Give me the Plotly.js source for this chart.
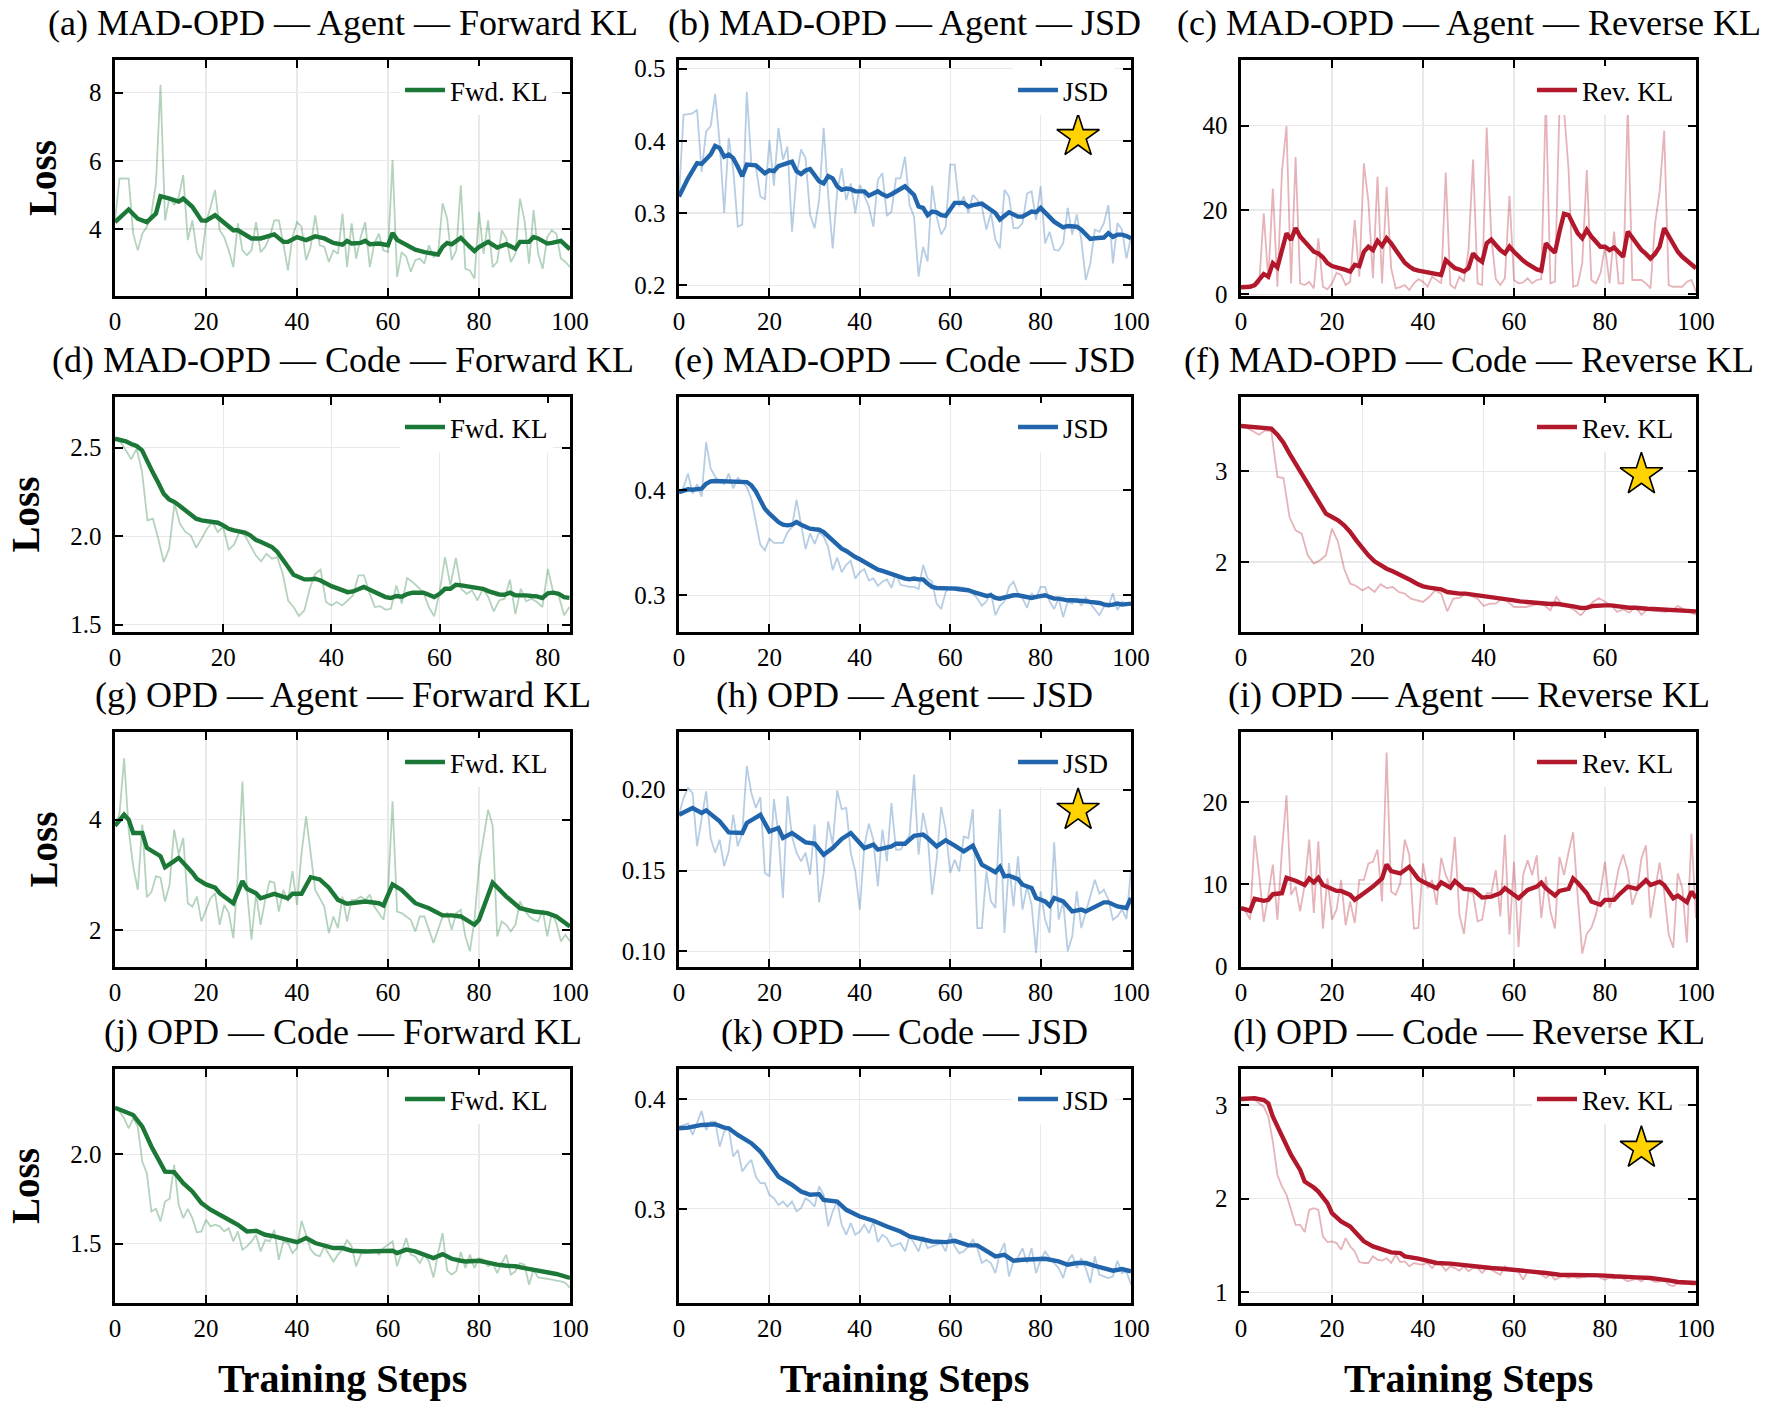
<!DOCTYPE html>
<html>
<head>
<meta charset="utf-8">
<script src="https://cdn.plot.ly/plotly-3.0.1.min.js"></script>
<style>
  html, body { margin: 0; padding: 0; background: #ffffff; }
  #chart { width: 1778px; height: 1405px; }
</style>
</head>
<body>
<div id="chart"></div>
<script>
// ---------- Loss curves: raw per-step values and smoothed trend ----------

// (a) MAD-OPD — Agent — Forward KL
const madAgentFwdRaw = [
  4.25,5.48,5.48,5.48,3.86,3.37,3.86,4.06,4.45,5.33,
  8.23,4.25,4.94,4.70,4.94,5.58,3.67,4.25,3.32,3.08,
  4.16,4.65,5.14,3.96,3.76,3.37,2.88,4.16,3.37,3.23,
  3.37,4.20,3.32,3.47,3.76,4.25,4.25,3.57,2.78,3.76,
  4.20,4.06,3.08,3.47,4.40,3.52,3.47,3.03,3.37,3.27,
  4.45,2.88,4.16,3.13,3.76,4.20,2.88,3.57,3.86,3.37,
  3.32,6.02,2.59,3.32,3.18,2.74,3.08,3.13,2.98,3.52,
  3.18,3.27,4.75,4.30,3.08,3.37,5.28,2.83,2.78,2.54,
  4.50,3.27,4.25,2.88,3.03,3.96,3.72,3.03,3.27,4.89,
  4.25,2.98,4.55,3.27,2.83,3.76,3.96,3.86,3.13,3.03,
  2.88];
const madAgentFwdSmoothSteps = [0,3,5,7,9,10,12,14,15,17,19,20,22,24,26,27,29,30,32,34,35,37,38,40,42,44,46,48,50,51,52,54,55,56,58,60,61,62,64,66,68,70,71,72,73,74,76,78,79,80,82,84,86,88,89,91,92,93,95,96,98,100];
const madAgentFwdSmooth = [4.20,4.57,4.30,4.20,4.45,4.96,4.89,4.80,4.89,4.65,4.25,4.24,4.40,4.20,3.96,3.96,3.78,3.72,3.72,3.78,3.84,3.62,3.62,3.76,3.67,3.78,3.72,3.59,3.54,3.65,3.57,3.59,3.65,3.55,3.57,3.52,3.88,3.68,3.55,3.39,3.32,3.29,3.25,3.47,3.59,3.55,3.74,3.47,3.35,3.47,3.62,3.45,3.55,3.42,3.62,3.62,3.76,3.72,3.57,3.59,3.65,3.40];

// (b) MAD-OPD — Agent — JSD
const madAgentJsdRaw = [
  0.323,0.436,0.437,0.438,0.443,0.357,0.413,0.420,0.465,0.397,
  0.300,0.404,0.360,0.281,0.284,0.468,0.369,0.364,0.323,0.319,
  0.401,0.338,0.418,0.374,0.392,0.274,0.351,0.388,0.376,0.298,
  0.279,0.318,0.418,0.325,0.251,0.330,0.362,0.318,0.341,0.300,
  0.339,0.325,0.309,0.281,0.346,0.355,0.296,0.302,0.348,0.348,
  0.378,0.311,0.295,0.212,0.253,0.233,0.338,0.295,0.270,0.281,
  0.367,0.367,0.309,0.323,0.300,0.325,0.318,0.309,0.277,0.300,
  0.263,0.251,0.332,0.323,0.279,0.279,0.286,0.327,0.330,0.290,
  0.337,0.258,0.274,0.249,0.248,0.258,0.307,0.270,0.298,0.263,
  0.207,0.230,0.277,0.274,0.286,0.311,0.230,0.286,0.277,0.237,
  0.267];
const madAgentJsdSmoothSteps = [0,2,4,5,7,8,9,10,11,12,13,14,15,17,19,20,21,22,24,25,26,27,28,29,31,32,33,34,35,36,37,38,39,41,42,44,45,46,47,48,50,52,53,54,55,56,57,58,59,61,62,63,64,65,67,69,70,71,72,73,75,76,78,79,80,81,83,84,85,86,87,88,89,90,91,92,93,94,95,96,97,98,99,100];
const madAgentJsdSmooth = [0.323,0.348,0.369,0.368,0.381,0.393,0.390,0.378,0.381,0.376,0.364,0.351,0.367,0.366,0.355,0.359,0.358,0.365,0.369,0.371,0.358,0.354,0.359,0.361,0.344,0.341,0.351,0.348,0.337,0.332,0.334,0.333,0.330,0.330,0.324,0.330,0.326,0.323,0.326,0.330,0.337,0.325,0.309,0.307,0.297,0.302,0.301,0.297,0.296,0.314,0.314,0.314,0.309,0.311,0.313,0.304,0.300,0.291,0.297,0.301,0.295,0.295,0.302,0.301,0.307,0.300,0.288,0.284,0.280,0.282,0.281,0.281,0.277,0.270,0.264,0.265,0.266,0.266,0.272,0.267,0.270,0.270,0.268,0.265];

// (c) MAD-OPD — Agent — Reverse KL
const madAgentRevRaw = [
  1.66,1.40,1.66,1.80,2.60,19.2,3.40,25.1,1.80,29.1,
  39.9,2.60,32.6,2.60,2.20,3.00,1.40,13.3,1.80,1.20,
  2.60,5.10,4.60,2.20,3.00,17.6,4.20,31.1,22.0,3.80,
  27.9,2.60,25.5,6.20,1.40,1.70,2.20,1.00,2.60,3.60,
  3.00,1.80,4.20,3.40,2.60,28.9,2.20,1.40,4.20,3.00,
  10.5,32.0,2.60,2.20,39.6,13.7,3.60,2.20,3.80,23.4,
  3.40,2.60,2.80,3.80,2.60,3.40,3.60,47.0,2.60,3.00,
  44.5,43.7,29.5,1.80,2.20,7.40,29.5,3.40,2.60,5.00,
  11.3,2.60,14.9,2.60,2.60,44.9,3.40,3.40,3.40,2.60,
  1.40,16.8,24.3,38.8,2.20,1.80,1.80,1.80,3.00,3.40,
  0.60];
const madAgentRevSmooth = [
  1.66,1.70,1.80,2.20,3.40,4.80,4.20,7.40,6.40,10.5,
  14.5,12.9,15.7,13.7,12.5,11.3,10.1,9.70,8.80,7.40,
  6.70,6.40,6.20,5.80,5.40,7.00,6.70,10.1,11.3,10.5,
  12.7,11.5,13.3,12.1,10.5,8.80,7.50,6.60,5.90,5.60,
  5.40,5.20,5.10,5.00,4.60,8.10,7.00,6.20,5.90,5.40,
  6.20,9.70,8.50,7.70,12.1,13.0,11.7,10.5,9.70,11.3,
  10.1,8.90,8.00,7.20,6.60,5.90,5.60,12.1,10.9,9.90,
  14.9,19.1,18.8,16.4,14.5,13.3,15.3,13.7,12.3,11.3,
  11.3,10.5,11.1,10.1,8.90,14.9,13.3,11.7,10.5,9.60,
  8.50,9.60,11.3,15.7,13.7,11.7,10.1,8.90,8.00,7.20,
  6.20];

// (d) MAD-OPD — Code — Forward KL
const madCodeFwdRaw = [
  2.541,2.532,2.485,2.434,2.494,2.363,2.089,2.099,1.986,1.854,
  1.929,2.184,2.071,2.024,2.005,1.935,1.986,2.042,2.080,2.024,
  2.052,1.924,1.952,2.024,2.005,1.948,1.892,1.858,1.901,1.873,
  1.882,1.788,1.637,1.600,1.549,1.581,1.703,1.788,1.811,1.628,
  1.609,1.628,1.609,1.637,1.666,1.779,1.779,1.684,1.600,1.605,
  1.585,1.590,1.722,1.620,1.764,1.741,1.713,1.684,1.600,1.547,
  1.684,1.882,1.722,1.877,1.703,1.675,1.694,1.637,1.703,1.656,
  1.575,1.637,1.647,1.754,1.560,1.703,1.632,1.647,1.628,1.600,
  1.816,1.684,1.666,1.553,1.600];
const madCodeFwdSmooth = [
  2.551,2.545,2.536,2.521,2.509,2.485,2.419,2.359,2.302,2.240,
  2.208,2.193,2.170,2.144,2.118,2.099,2.089,2.086,2.080,2.076,
  2.061,2.042,2.033,2.029,2.020,2.005,1.980,1.967,1.954,1.939,
  1.911,1.873,1.826,1.782,1.766,1.756,1.756,1.760,1.750,1.732,
  1.718,1.707,1.694,1.684,1.688,1.703,1.713,1.699,1.684,1.669,
  1.656,1.651,1.662,1.658,1.673,1.681,1.684,1.681,1.669,1.656,
  1.675,1.703,1.703,1.726,1.722,1.717,1.711,1.703,1.703,1.690,
  1.681,1.671,1.669,1.681,1.666,1.669,1.666,1.662,1.660,1.651,
  1.677,1.681,1.675,1.656,1.652];

// (e) MAD-OPD — Code — JSD
const madCodeJsdRaw = [
  0.397,0.403,0.416,0.397,0.406,0.394,0.446,0.421,0.413,0.408,
  0.406,0.416,0.402,0.412,0.408,0.403,0.392,0.370,0.348,0.343,
  0.354,0.350,0.350,0.350,0.360,0.365,0.391,0.367,0.344,0.359,
  0.349,0.360,0.356,0.346,0.324,0.336,0.322,0.329,0.333,0.316,
  0.322,0.325,0.314,0.316,0.309,0.313,0.315,0.307,0.321,0.310,
  0.309,0.308,0.308,0.306,0.329,0.316,0.313,0.292,0.287,0.303,
  0.308,0.308,0.308,0.307,0.305,0.302,0.297,0.290,0.294,0.303,
  0.281,0.290,0.294,0.308,0.313,0.302,0.297,0.288,0.302,0.297,
  0.308,0.308,0.294,0.287,0.297,0.279,0.294,0.292,0.297,0.290,
  0.298,0.292,0.287,0.281,0.289,0.290,0.302,0.286,0.294,0.292,
  0.290];
const madCodeJsdSmooth = [
  0.3984,0.4000,0.4010,0.4006,0.4010,0.4016,0.4063,0.4086,0.4089,0.4089,
  0.4086,0.4083,0.4086,0.4089,0.4086,0.4079,0.4048,0.3990,0.3905,0.3825,
  0.3778,0.3737,0.3698,0.3673,0.3667,0.3673,0.3698,0.3673,0.3651,0.3635,
  0.3629,0.3625,0.3603,0.3565,0.3524,0.3483,0.3444,0.3422,0.3390,0.3365,
  0.3343,0.3317,0.3292,0.3270,0.3244,0.3232,0.3216,0.3200,0.3190,0.3175,
  0.3159,0.3152,0.3159,0.3152,0.3152,0.3111,0.3079,0.3070,0.3070,0.3070,
  0.3063,0.3063,0.3057,0.3057,0.3048,0.3032,0.3016,0.3000,0.2994,0.3000,
  0.2975,0.2968,0.2978,0.2994,0.3000,0.3000,0.2994,0.2984,0.2975,0.2984,
  0.2994,0.3000,0.2984,0.2968,0.2968,0.2959,0.2952,0.2952,0.2952,0.2952,
  0.2943,0.2937,0.2937,0.2927,0.2914,0.2905,0.2911,0.2921,0.2911,0.2914,
  0.2921];

// (f) MAD-OPD — Code — Reverse KL
const madCodeRevRaw = [
  3.515,3.478,3.434,3.404,3.452,3.441,2.938,2.926,2.496,2.349,
  2.313,2.074,1.982,2.018,2.074,2.368,2.221,1.926,1.761,1.735,
  1.687,1.724,1.669,1.754,1.713,1.724,1.669,1.651,1.596,1.577,
  1.559,1.614,1.687,1.651,1.456,1.596,1.603,1.651,1.625,1.596,
  1.515,1.540,1.540,1.596,1.559,1.504,1.504,1.504,1.522,1.540,
  1.522,1.467,1.614,1.522,1.504,1.467,1.412,1.485,1.559,1.603,
  1.559,1.522,1.449,1.478,1.441,1.504,1.419,1.478,1.463,1.456,
  1.449,1.467,1.515,1.478,1.449,1.419];
const madCodeRevSmooth = [
  3.500,3.493,3.485,3.478,3.474,3.471,3.404,3.316,3.195,3.085,
  2.974,2.853,2.735,2.625,2.533,2.496,2.460,2.404,2.331,2.239,
  2.147,2.074,2.007,1.963,1.926,1.897,1.868,1.835,1.798,1.761,
  1.732,1.717,1.713,1.699,1.669,1.654,1.651,1.651,1.643,1.632,
  1.621,1.610,1.603,1.596,1.588,1.577,1.566,1.559,1.551,1.548,
  1.540,1.537,1.540,1.533,1.522,1.507,1.493,1.496,1.515,1.522,
  1.522,1.522,1.511,1.504,1.496,1.496,1.485,1.485,1.482,1.478,
  1.474,1.474,1.478,1.474,1.467,1.456];

// (g) OPD — Agent — Forward KL
const opdAgentFwdRaw = [
  3.88,4.12,5.11,3.82,3.16,2.73,3.91,2.60,2.69,2.98,
  2.95,2.52,2.83,3.82,3.37,3.67,2.49,2.43,2.61,2.16,
  2.37,2.58,2.67,2.10,2.46,2.31,1.86,2.98,4.69,2.73,
  1.83,2.67,2.10,2.55,2.89,2.86,2.34,2.73,2.52,3.07,
  2.46,3.40,4.06,3.43,2.73,2.58,2.43,1.95,2.25,2.04,
  2.61,2.16,2.55,2.55,2.61,2.55,2.64,2.43,2.31,2.19,
  2.70,4.33,2.34,2.31,2.25,2.19,1.98,2.25,2.25,2.01,
  1.77,2.01,2.25,2.31,2.01,2.31,2.37,1.89,1.62,2.19,
  3.16,3.67,4.18,3.89,1.89,2.16,2.10,1.98,2.10,2.52,
  2.37,2.25,2.19,2.16,2.37,1.89,2.31,2.13,1.80,1.92,
  1.80];
const opdAgentFwdSmoothSteps = [0,2,3,4,6,7,10,11,13,14,17,18,20,22,23,24,26,28,29,31,32,35,37,38,39,41,43,45,47,49,51,55,58,59,61,63,66,69,72,74,76,79,80,83,86,89,92,95,97,100];
const opdAgentFwdSmooth = [3.89,4.09,4.00,3.76,3.76,3.49,3.34,3.14,3.25,3.31,3.04,2.93,2.83,2.77,2.67,2.61,2.49,2.89,2.75,2.67,2.58,2.66,2.61,2.58,2.66,2.66,2.96,2.92,2.77,2.55,2.48,2.52,2.49,2.45,2.83,2.73,2.49,2.40,2.27,2.27,2.25,2.10,2.19,2.86,2.61,2.40,2.34,2.31,2.25,2.07];

// (h) OPD — Agent — JSD
const opdAgentJsdRaw = [
  0.1845,0.1948,0.2010,0.1980,0.1650,0.1825,0.1990,0.1700,0.1610,0.1690,
  0.1526,0.1619,0.1845,0.1650,0.1730,0.2148,0.1980,0.1887,0.1955,0.1485,
  0.1464,0.1942,0.1720,0.1330,0.1960,0.1710,0.1610,0.1557,0.1610,0.1474,
  0.1784,0.1303,0.1485,0.1804,0.1660,0.1996,0.1880,0.1887,0.1610,0.1495,
  0.1258,0.1650,0.1790,0.1690,0.1402,0.1753,0.1557,0.1918,0.1629,0.1629,
  0.1670,0.1720,0.2093,0.1598,0.1856,0.1720,0.1350,0.1567,0.1893,0.1753,
  0.1485,0.1567,0.1495,0.1711,0.1700,0.1880,0.1144,0.1144,0.1495,0.1310,
  0.1268,0.1880,0.1113,0.1546,0.1278,0.1588,0.1258,0.1402,0.1289,0.0990,
  0.1371,0.1196,0.1113,0.1674,0.1196,0.1310,0.1000,0.1093,0.1371,0.1144,
  0.1237,0.1340,0.1443,0.1357,0.1381,0.1320,0.1196,0.1217,0.1258,0.1200,
  0.1505];
const opdAgentJsdSmoothSteps = [0,3,5,6,9,11,14,15,18,20,22,23,25,28,30,32,34,36,38,39,41,43,44,47,48,50,52,54,55,57,59,61,63,65,67,70,71,72,73,75,76,78,79,81,82,83,85,87,89,90,92,94,95,97,99,100];
const opdAgentJsdSmooth = [0.1845,0.1887,0.1856,0.1872,0.1804,0.1736,0.1732,0.1794,0.1845,0.1742,0.1763,0.1701,0.1732,0.1674,0.1666,0.1598,0.1639,0.1695,0.1732,0.1701,0.1639,0.1660,0.1629,0.1649,0.1666,0.1666,0.1715,0.1722,0.1701,0.1649,0.1687,0.1654,0.1619,0.1654,0.1536,0.1489,0.1522,0.1464,0.1468,0.1447,0.1412,0.1392,0.1330,0.1309,0.1282,0.1330,0.1309,0.1247,0.1258,0.1247,0.1278,0.1303,0.1303,0.1278,0.1268,0.1330];

// (i) OPD — Agent — Reverse KL
const opdAgentRevRaw = [
  7.07,6.67,5.66,15.9,11.08,5.38,8.67,12.37,5.66,14.1,
  20.8,8.67,9.68,6.67,9.88,15.4,6.47,15.2,4.58,10.7,
  5.66,6.87,10.5,4.98,7.87,5.26,10.5,10.5,12.5,12.7,
  14.2,7.87,26.0,9.08,8.67,10.1,15.4,13.5,4.58,4.66,
  12.5,9.48,10.5,7.47,13.2,11.08,9.88,15.7,6.27,3.94,
  9.08,8.88,5.46,5.66,8.88,8.88,11.7,6.06,16.0,3.86,
  12.7,2.33,11.08,12.9,11.08,13.5,5.86,10.9,6.67,4.58,
  13.3,11.08,13.9,16.3,8.47,1.53,3.94,4.66,6.27,9.08,
  12.7,7.07,8.88,11.9,13.6,11.5,7.47,9.08,13.1,14.7,
  5.86,9.08,12.6,9.08,3.86,2.25,11.3,9.48,2.85,16.1,
  5.86];
const opdAgentRevSmoothSteps = [0,2,3,5,6,7,9,10,12,14,15,16,17,18,21,22,24,25,27,29,31,32,33,35,37,39,40,43,44,46,47,49,51,53,55,57,58,59,61,63,65,66,67,69,70,72,73,74,76,77,79,80,82,83,85,87,89,90,92,93,95,96,98,99,100];
const opdAgentRevSmooth = [7.07,6.75,8.19,7.95,8.07,8.76,8.88,10.76,10.40,9.88,10.68,10.20,10.76,9.88,9.16,9.16,8.67,8.07,8.88,9.68,10.68,12.37,11.57,11.29,12.09,10.60,10.28,9.48,10.20,9.56,10.36,9.40,9.28,8.35,8.47,8.88,9.48,9.08,8.27,9.28,9.68,10.16,9.48,8.59,9.16,9.40,10.68,10.16,8.88,7.87,7.47,8.07,8.07,8.67,9.68,9.40,10.48,9.88,10.28,9.88,8.27,8.59,7.79,9.08,8.27];

// (j) OPD — Code — Forward KL
const opdCodeFwdRaw = [
  2.260,2.238,2.201,2.145,2.201,2.154,1.959,1.894,1.680,1.695,
  1.625,1.736,1.751,1.940,1.717,1.643,1.695,1.643,1.563,1.569,
  1.634,1.597,1.606,1.597,1.569,1.587,1.513,1.569,1.467,1.485,
  1.513,1.550,1.457,1.522,1.513,1.578,1.411,1.513,1.504,1.448,
  1.476,1.628,1.550,1.467,1.439,1.429,1.485,1.439,1.401,1.439,
  1.467,1.522,1.485,1.374,1.439,1.467,1.457,1.467,1.439,1.476,
  1.494,1.513,1.374,1.457,1.532,1.439,1.429,1.392,1.439,1.401,
  1.312,1.448,1.559,1.350,1.327,1.346,1.454,1.364,1.439,1.364,
  1.420,1.411,1.374,1.392,1.336,1.392,1.439,1.327,1.346,1.392,
  1.383,1.271,1.355,1.312,1.309,1.305,1.299,1.294,1.290,1.281,
  1.253];
const opdCodeFwdSmoothSteps = [0,2,4,6,8,10,11,13,15,17,19,21,23,25,27,29,31,33,35,37,38,40,42,44,46,48,50,52,55,58,61,62,64,66,68,70,72,74,76,77,80,82,84,86,88,90,92,94,97,100];
const opdCodeFwdSmooth = [2.260,2.238,2.219,2.154,2.043,1.950,1.903,1.900,1.838,1.792,1.727,1.690,1.665,1.634,1.606,1.569,1.572,1.550,1.541,1.532,1.522,1.509,1.532,1.504,1.491,1.476,1.476,1.461,1.457,1.457,1.461,1.448,1.467,1.457,1.439,1.420,1.442,1.416,1.405,1.401,1.405,1.392,1.383,1.377,1.374,1.364,1.355,1.346,1.331,1.309];

// (k) OPD — Code — JSD
const opdCodeJsdRaw = [
  0.3750,0.3766,0.3781,0.3675,0.3781,0.3894,0.3720,0.3796,0.3796,0.3568,
  0.3705,0.3736,0.3477,0.3538,0.3340,0.3401,0.3447,0.3295,0.3234,0.3234,
  0.3128,0.3097,0.3036,0.3067,0.3021,0.3067,0.2976,0.3006,0.3097,0.3067,
  0.3021,0.3204,0.3128,0.2839,0.2976,0.3067,0.2854,0.2763,0.2869,0.2763,
  0.2793,0.2854,0.2778,0.2884,0.2696,0.2763,0.2733,0.2657,0.2672,0.2687,
  0.2611,0.2748,0.2687,0.2611,0.2748,0.2641,0.2657,0.2672,0.2687,0.2611,
  0.2778,0.2657,0.2596,0.2611,0.2657,0.2717,0.2641,0.2505,0.2535,0.2505,
  0.2413,0.2596,0.2687,0.2383,0.2520,0.2556,0.2641,0.2505,0.2641,0.2413,
  0.2535,0.2611,0.2550,0.2505,0.2459,0.2368,0.2520,0.2581,0.2459,0.2550,
  0.2459,0.2322,0.2565,0.2398,0.2383,0.2368,0.2383,0.2526,0.2413,0.2429,
  0.2307];
const opdCodeJsdSmoothSteps = [0,2,5,8,10,11,13,16,18,20,22,25,27,28,29,31,32,35,37,40,43,46,49,51,53,56,59,61,64,66,68,70,72,74,76,78,81,84,86,88,90,92,94,96,98,100];
const opdCodeJsdSmooth = [0.3736,0.3742,0.3766,0.3772,0.3742,0.3736,0.3675,0.3599,0.3523,0.3416,0.3295,0.3219,0.3158,0.3143,0.3128,0.3134,0.3082,0.3067,0.2991,0.2930,0.2891,0.2839,0.2793,0.2748,0.2733,0.2702,0.2696,0.2708,0.2666,0.2666,0.2617,0.2565,0.2580,0.2526,0.2535,0.2535,0.2544,0.2520,0.2489,0.2505,0.2505,0.2480,0.2459,0.2435,0.2450,0.2429];

// (l) OPD — Code — Reverse KL
const opdCodeRevRaw = [
  3.071,3.071,3.071,3.053,3.018,2.982,2.876,2.609,2.254,2.130,
  2.041,1.881,1.721,1.721,1.643,1.881,1.899,1.881,1.597,1.536,
  1.543,1.526,1.455,1.579,1.490,1.437,1.323,1.313,1.313,1.384,
  1.348,1.338,1.366,1.313,1.401,1.323,1.330,1.277,1.313,1.302,
  1.295,1.313,1.259,1.313,1.295,1.231,1.277,1.259,1.231,1.277,
  1.224,1.259,1.259,1.206,1.259,1.241,1.217,1.188,1.277,1.241,
  1.231,1.217,1.135,1.224,1.217,1.206,1.188,1.153,1.188,1.135,
  1.160,1.171,1.153,1.171,1.153,1.160,1.171,1.188,1.195,1.153,
  1.135,1.160,1.146,1.160,1.146,1.117,1.135,1.146,1.117,1.153,
  1.135,1.110,1.117,1.135,1.082,1.064,1.099,1.089,1.096,1.082,
  1.089];
const opdCodeRevSmoothSteps = [0,3,5,6,7,9,11,13,14,16,17,19,20,22,24,25,27,29,31,33,35,36,39,41,43,46,48,50,52,55,58,60,62,65,67,70,73,75,77,79,82,84,87,90,92,94,96,100];
const opdCodeRevSmooth = [3.064,3.071,3.053,3.018,2.876,2.680,2.467,2.307,2.183,2.119,2.076,1.952,1.845,1.757,1.703,1.650,1.544,1.490,1.455,1.426,1.419,1.384,1.359,1.330,1.313,1.306,1.295,1.277,1.266,1.259,1.249,1.242,1.224,1.224,1.206,1.188,1.188,1.188,1.188,1.181,1.171,1.171,1.160,1.153,1.146,1.128,1.110,1.100];

// Best-configuration markers: [panel letter, step, loss]
const bestMarkers = [
  ['b', 88.3, 0.406],
  ['f', 66.0, 2.963],
  ['h', 88.3, 0.1872],
  ['l', 88.0, 2.538]
];

// Titles and legend labels
const panelTitles = [
  '(a) MAD-OPD — Agent — Forward KL', '(b) MAD-OPD — Agent — JSD', '(c) MAD-OPD — Agent — Reverse KL',
  '(d) MAD-OPD — Code — Forward KL', '(e) MAD-OPD — Code — JSD', '(f) MAD-OPD — Code — Reverse KL',
  '(g) OPD — Agent — Forward KL', '(h) OPD — Agent — JSD', '(i) OPD — Agent — Reverse KL',
  '(j) OPD — Code — Forward KL', '(k) OPD — Code — JSD', '(l) OPD — Code — Reverse KL'
];
const lossNames = { fwd: 'Fwd. KL', jsd: 'JSD', rev: 'Rev. KL' };

// ---------- Styling ----------
const SERIF = '"Liberation Serif", serif';
const palette = {
  fwd: { main: '#1b7837', faint: 'rgba(27,120,55,0.33)' },
  jsd: { main: '#2166ac', faint: 'rgba(33,102,172,0.33)' },
  rev: { main: '#b2182b', faint: 'rgba(178,24,43,0.33)' }
};

// Plot-area boxes in pixels (left/right per column, top/bottom per row)
const W = 1778, H = 1405;
const colPx = [[115, 570], [679, 1131], [1241, 1696]];
const rowPx = [[60, 296], [397, 632], [732, 967], [1069, 1303]];

function idx(n) { return n.map((_, i) => i); }

const panels = [
  { letter: 'a', kind: 'fwd', raw: madAgentFwdRaw, sx: madAgentFwdSmoothSteps, sy: madAgentFwdSmooth, xr: [0, 100], yr: [2.03, 8.96], dtick: 2, fmt: '' },
  { letter: 'b', kind: 'jsd', raw: madAgentJsdRaw, sx: madAgentJsdSmoothSteps, sy: madAgentJsdSmooth, xr: [0, 100], yr: [0.185, 0.512], dtick: 0.1, fmt: '.1f' },
  { letter: 'c', kind: 'rev', raw: madAgentRevRaw, sx: idx(madAgentRevSmooth), sy: madAgentRevSmooth, xr: [0, 100], yr: [-0.4, 55.6], dtick: 20, fmt: '' },
  { letter: 'd', kind: 'fwd', raw: madCodeFwdRaw, sx: idx(madCodeFwdSmooth), sy: madCodeFwdSmooth, xr: [0, 84.1], yr: [1.459, 2.786], dtick: 0.5, fmt: '.1f' },
  { letter: 'e', kind: 'jsd', raw: madCodeJsdRaw, sx: idx(madCodeJsdSmooth), sy: madCodeJsdSmooth, xr: [0, 100], yr: [0.265, 0.489], dtick: 0.1, fmt: '.1f' },
  { letter: 'f', kind: 'rev', raw: madCodeRevRaw, sx: idx(madCodeRevSmooth), sy: madCodeRevSmooth, xr: [0, 75], yr: [1.228, 3.82], dtick: 1, fmt: '' },
  { letter: 'g', kind: 'fwd', raw: opdAgentFwdRaw, sx: opdAgentFwdSmoothSteps, sy: opdAgentFwdSmooth, xr: [0, 100], yr: [1.337, 5.584], dtick: 2, fmt: '' },
  { letter: 'h', kind: 'jsd', raw: opdAgentJsdRaw, sx: opdAgentJsdSmoothSteps, sy: opdAgentJsdSmooth, xr: [0, 100], yr: [0.0903, 0.2357], dtick: 0.05, fmt: '.2f' },
  { letter: 'i', kind: 'rev', raw: opdAgentRevRaw, sx: opdAgentRevSmoothSteps, sy: opdAgentRevSmooth, xr: [0, 100], yr: [-0.1, 28.5], dtick: 10, fmt: '' },
  { letter: 'j', kind: 'fwd', raw: opdCodeFwdRaw, sx: opdCodeFwdSmoothSteps, sy: opdCodeFwdSmooth, xr: [0, 100], yr: [1.169, 2.476], dtick: 0.5, fmt: '.1f' },
  { letter: 'k', kind: 'jsd', raw: opdCodeJsdRaw, sx: opdCodeJsdSmoothSteps, sy: opdCodeJsdSmooth, xr: [0, 100], yr: [0.214, 0.4277], dtick: 0.1, fmt: '.1f' },
  { letter: 'l', kind: 'rev', raw: opdCodeRevRaw, sx: opdCodeRevSmoothSteps, sy: opdCodeRevSmooth, xr: [0, 100], yr: [0.886, 3.384], dtick: 1, fmt: '' }
];

const traces = [];
const layout = {
  width: W, height: H,
  margin: { l: 0, r: 0, t: 0, b: 0 },
  paper_bgcolor: '#ffffff', plot_bgcolor: '#ffffff',
  showlegend: true,
  font: { family: SERIF, color: '#000000' },
  annotations: []
};

const axisCommon = {
  ticks: 'inside', ticklen: 8, tickwidth: 2, tickcolor: '#000000',
  showline: true, linewidth: 2.6, linecolor: '#000000', mirror: 'allticks',
  showgrid: true, gridcolor: '#e9e9e9', gridwidth: 1.3,
  zeroline: false, fixedrange: true,
  tickfont: { family: SERIF, size: 25, color: '#000000' }
};

panels.forEach((p, i) => {
  const row = Math.floor(i / 3), col = i % 3;
  const n = i + 1;
  const xa = n === 1 ? 'x' : 'x' + n;
  const ya = n === 1 ? 'y' : 'y' + n;
  const lg = n === 1 ? 'legend' : 'legend' + n;
  const x0 = colPx[col][0] / W, x1 = colPx[col][1] / W;
  const yTop = 1 - rowPx[row][0] / H, yBot = 1 - rowPx[row][1] / H;
  const c = palette[p.kind];

  layout['xaxis' + (n === 1 ? '' : n)] = Object.assign({}, axisCommon, {
    domain: [x0, x1], anchor: ya, range: p.xr, tick0: 0, dtick: 20,
    ticklabelstandoff: 1
  });
  layout['yaxis' + (n === 1 ? '' : n)] = Object.assign({}, axisCommon, {
    domain: [yBot, yTop], anchor: xa, range: p.yr, tick0: 0, dtick: p.dtick,
    tickformat: p.fmt, ticklabelstandoff: 6
  });

  layout[lg] = {
    x: x1 - 17 / W, y: yTop - 6 / H, xanchor: 'right', yanchor: 'top',
    bgcolor: 'rgba(255,255,255,1)', borderwidth: 0,
    font: { family: SERIF, size: 27, color: '#000000' },
    itemwidth: 40
  };

  traces.push({
    type: 'scatter', mode: 'lines', x: idx(p.raw), y: p.raw, xaxis: xa, yaxis: ya,
    line: { color: c.faint, width: 1.8 }, showlegend: false, hoverinfo: 'skip'
  });
  traces.push({
    type: 'scatter', mode: 'lines', x: p.sx, y: p.sy, xaxis: xa, yaxis: ya,
    name: lossNames[p.kind], legend: lg,
    line: { color: c.main, width: 4.4 }, showlegend: true, hoverinfo: 'skip'
  });

  const star = bestMarkers.find(m => m[0] === p.letter);
  if (star) {
    traces.push({
      type: 'scatter', mode: 'markers', x: [star[1]], y: [star[2]], xaxis: xa, yaxis: ya,
      marker: { symbol: 'star', size: 32, color: '#FFD200', line: { color: '#000000', width: 1.6 } },
      showlegend: false, hoverinfo: 'skip'
    });
  }

  // Panel title
  layout.annotations.push({
    text: panelTitles[i], xref: 'paper', yref: 'paper',
    x: (x0 + x1) / 2, y: yTop + 37 / H, xanchor: 'center', yanchor: 'middle',
    showarrow: false, font: { family: SERIF, size: 36, color: '#000000' }
  });
});

// Shared axis labels
const lossLabelX = [43, 25, 43, 25];
rowPx.forEach((r, row) => {
  layout.annotations.push({
    text: '<b>Loss</b>', xref: 'paper', yref: 'paper',
    x: lossLabelX[row] / W, y: 1 - ((r[0] + r[1]) / 2) / H,
    xanchor: 'center', yanchor: 'middle', textangle: -90, showarrow: false,
    font: { family: SERIF, size: 39, color: '#000000' }
  });
});
colPx.forEach(cp => {
  layout.annotations.push({
    text: '<b>Training Steps</b>', xref: 'paper', yref: 'paper',
    x: ((cp[0] + cp[1]) / 2) / W, y: 1 - 1378 / H,
    xanchor: 'center', yanchor: 'middle', showarrow: false,
    font: { family: SERIF, size: 40, color: '#000000' }
  });
});

Plotly.newPlot('chart', traces, layout, { staticPlot: true, displayModeBar: false });
</script>
</body>
</html>
